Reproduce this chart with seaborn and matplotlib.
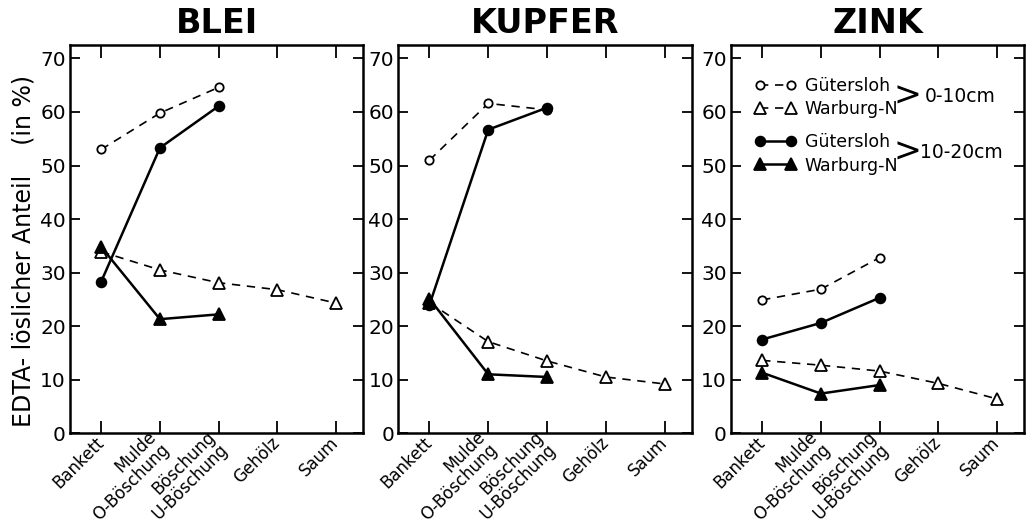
import numpy as np
import pandas as pd
import matplotlib
matplotlib.use("Agg")
import matplotlib.pyplot as plt
import seaborn as sns

# x categories (two-line labels at ticks 1 and 2)
categories = ["Bankett", "Mulde\nO-Böschung", "Böschung\nU-Böschung", "Gehölz", "Saum"]
elements = ["BLEI", "KUPFER", "ZINK"]

# values (EDTA-löslicher Anteil in %)
blei_guet_0_10 = [53.0, 59.8, 64.6]
blei_warb_0_10 = [33.9, 30.5, 28.1, 26.8, 24.3]
blei_guet_10_20 = [28.3, 53.3, 61.1]
blei_warb_10_20 = [34.8, 21.3, 22.2]

kupfer_guet_0_10 = [51.0, 61.6, 60.4]
kupfer_warb_0_10 = [24.4, 17.1, 13.5, 10.5, 9.2]
kupfer_guet_10_20 = [24.0, 56.7, 60.8]
kupfer_warb_10_20 = [25.1, 11.0, 10.5]

zink_guet_0_10 = [24.9, 26.9, 32.8]
zink_warb_0_10 = [13.6, 12.7, 11.6, 9.3, 6.4]
zink_guet_10_20 = [17.5, 20.6, 25.3]
zink_warb_10_20 = [11.3, 7.4, 9.0]

data = {
    "BLEI": [blei_guet_0_10, blei_warb_0_10, blei_guet_10_20, blei_warb_10_20],
    "KUPFER": [kupfer_guet_0_10, kupfer_warb_0_10, kupfer_guet_10_20, kupfer_warb_10_20],
    "ZINK": [zink_guet_0_10, zink_warb_0_10, zink_guet_10_20, zink_warb_10_20],
}
series_names = ["Gütersloh", "Warburg-N", "Gütersloh", "Warburg-N"]

# line / marker styles per series
styles = [
    dict(marker="o", markersize=6, markerfacecolor="white", linestyle=(0, (5, 4)), linewidth=1.2),
    dict(marker="^", markersize=8, markerfacecolor="white", linestyle=(0, (5, 4)), linewidth=1.2),
    dict(marker="o", markersize=7, markerfacecolor="black", linestyle="-", linewidth=1.8),
    dict(marker="^", markersize=9, markerfacecolor="black", linestyle="-", linewidth=1.8),
]

sns.set_style("ticks")
plt.rcParams["font.family"] = ["DejaVu Sans"]
plt.rcParams.update({"text.color": "black", "axes.labelcolor": "black",
                     "xtick.color": "black", "ytick.color": "black",
                     "axes.edgecolor": "black"})

fig = plt.figure(figsize=(10.36, 5.27), dpi=100)
lefts = [0.0676, 0.3845, 0.7056]
axes = [fig.add_axes([l, 0.178, 0.283, 0.7365]) for l in lefts]

for ax, elem in zip(axes, elements):
    lines = []
    for vals, st in zip(data[elem], styles):
        df = pd.DataFrame({"x": np.arange(len(vals)), "y": vals})
        sns.lineplot(data=df, x="x", y="y", ax=ax, color="black",
                     markeredgecolor="black", markeredgewidth=1.3, **st)
        lines.append(ax.lines[-1])
    ax.set_xlim(-0.53, 4.46)
    ax.set_ylim(0, 72.5)
    ax.set_xticks(range(len(categories)))
    ax.set_xticklabels(categories, rotation=45, ha="right", va="center",
                       rotation_mode="anchor", fontsize=12,
                       multialignment="right", linespacing=1.0)
    ax.set_yticks(range(0, 71, 10))
    ax.tick_params(axis="y", labelsize=14.5, direction="in", length=7, width=1.3,
                   left=True, right=True, pad=3)
    ax.tick_params(axis="x", direction="in", length=9, width=1.3, top=True,
                   bottom=True, pad=5)
    for sp in ax.spines.values():
        sp.set_visible(True)
        sp.set_linewidth(1.8)
    ax.set_xlabel("")
    ax.set_ylabel("")
    ax.set_title(elem, fontsize=24, fontweight="bold", pad=9)
    ax.series_lines = lines

axes[0].set_ylabel("EDTA- löslicher Anteil    (in %)", fontsize=17)
axes[0].yaxis.set_label_coords(-0.118, 0.47)

# legends in ZINK panel
ax3 = axes[2]
l = ax3.series_lines
leg_kw = dict(loc="upper left", frameon=False, fontsize=12.5, handlelength=2.4,
              handletextpad=0.5, labelspacing=0.3, borderpad=0, numpoints=2)
leg1 = ax3.legend(l[:2], series_names[:2], bbox_to_anchor=(0.05, 0.94), **leg_kw)
ax3.add_artist(leg1)
ax3.legend(l[2:], series_names[2:], bbox_to_anchor=(0.05, 0.795), **leg_kw)
ax3.text(0.555, 0.868, ">", transform=ax3.transAxes, fontsize=24, va="center", ha="left")
ax3.text(0.66, 0.868, "0-10cm", transform=ax3.transAxes, fontsize=13.5, va="center", ha="left")
ax3.text(0.555, 0.724, ">", transform=ax3.transAxes, fontsize=24, va="center", ha="left")
ax3.text(0.645, 0.724, "10-20cm", transform=ax3.transAxes, fontsize=13.5, va="center", ha="left")

fig.savefig("out.png", dpi=100)
